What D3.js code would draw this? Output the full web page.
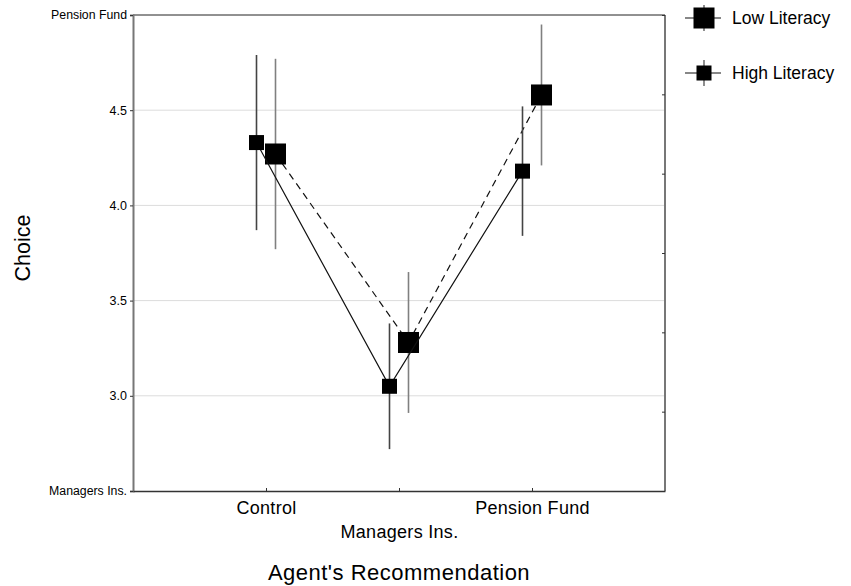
<!DOCTYPE html>
<html>
<head>
<meta charset="utf-8">
<script src="https://cdn.jsdelivr.net/npm/d3@7"></script>
<style>
  body { margin: 0; background: #fff; }
  text { font-family: "Liberation Sans", Arial, sans-serif; fill: #000; }
</style>
</head>
<body>
<svg id="chart" width="851" height="586"></svg>
<script>
// data
var categories = ["Control", "Managers Ins.", "Pension Fund"];
var lowMean  = [4.27, 3.28, 4.58];
var lowErr   = [0.50, 0.37, 0.37];
var highMean = [4.33, 3.05, 4.18];
var highErr  = [0.46, 0.33, 0.34];
var yTicks      = [2.5, 3.0, 3.5, 4.0, 4.5, 5.0];
var yTickLabels = ["Managers Ins.", "3.0", "3.5", "4.0", "4.5", "Pension Fund"];
var seriesNames = ["Low Literacy", "High Literacy"];

var svg = d3.select("#chart"),
    margin = {top: 15, right: 186, bottom: 95, left: 133};
var width  = 851 - margin.left - margin.right;
var height = 586 - margin.top - margin.bottom;
var canvas = svg.append("g").attr("transform", "translate(" + margin.left + "," + margin.top + ")");

var x = d3.scalePoint().domain(categories).range([0, width]).padding(1);
var y = d3.scaleLinear().domain([2.5, 5]).range([height, 0]);

// grid lines
canvas.append("g").selectAll("line")
    .data(yTicks.slice(1, -1))
  .enter().append("line")
    .attr("x1", 0).attr("x2", width)
    .attr("y1", function(d) { return y(d); })
    .attr("y2", function(d) { return y(d); })
    .style("stroke", "#dcdcdc").style("stroke-width", 1);

// frame: top and right
canvas.append("line").attr("x1", 0).attr("x2", width).attr("y1", 0).attr("y2", 0)
    .style("stroke", "#222").style("stroke-width", 1);
canvas.append("line").attr("x1", width).attr("x2", width).attr("y1", 0).attr("y2", height)
    .style("stroke", "#777").style("stroke-width", 2);

// right axis: unlabeled ticks
var yRight = d3.axisLeft(y).tickValues(d3.range(7).map(function(i) { return 2.5 + i * 2.5 / 6; }))
    .tickSize(3).tickFormat("");
var ra = canvas.append("g").attr("transform", "translate(" + width + ",0)").call(yRight);
ra.select(".domain").remove();
ra.selectAll("line").style("stroke", "#333");

// left axis
var yAxis = d3.axisLeft(y).tickValues(yTicks).tickSize(3).tickPadding(3)
    .tickFormat(function(d, i) { return yTickLabels[i]; });
var la = canvas.append("g").call(yAxis);
la.select(".domain").style("stroke", "#777").style("stroke-width", 2);
la.selectAll("line").style("stroke", "#333");
la.selectAll("text").style("font-size", function(d, i) { return (i === 0 || i === yTicks.length - 1) ? "12.3px" : "12.5px"; })
    .style("font-family", "Liberation Sans, Arial, sans-serif");

// bottom axis
var xAxis = d3.axisBottom(x).tickSizeInner(-3).tickSizeOuter(0).tickPadding(12);
var ba = canvas.append("g").attr("transform", "translate(0," + height + ")").call(xAxis);
ba.select(".domain").style("stroke", "#333").style("stroke-width", 1.5);
ba.selectAll("line").style("stroke", "#333");
ba.selectAll("text")
    .style("font-size", "18px")
    .style("letter-spacing", "0.3px")
    .style("font-family", "Liberation Sans, Arial, sans-serif")
    .attr("dy", function(d, i) { return i === 1 ? "1.95em" : "0.6em"; });

// axis titles
svg.append("text")
    .attr("x", margin.left + width / 2).attr("y", 580)
    .attr("text-anchor", "middle")
    .style("font-size", "22px")
    .style("letter-spacing", "0.5px")
    .text("Agent's Recommendation");

svg.append("text")
    .attr("transform", "translate(30,248) rotate(-90)")
    .attr("text-anchor", "middle")
    .style("font-size", "21.5px")
    .text("Choice");

// series
var series = [
  {name: seriesNames[0], mean: lowMean,  err: lowErr,  off: 9.5,  size: 21, dash: "7,5", barColor: "#808080"},
  {name: seriesNames[1], mean: highMean, err: highErr, off: -9.5, size: 15, dash: null,  barColor: "#444"}
];

var line = d3.line()
    .x(function(d) { return d.x; })
    .y(function(d) { return d.y; });

series.forEach(function(s) {
  var pts = categories.map(function(c, i) {
    return {x: x(c) + s.off, y: y(s.mean[i]), lo: y(s.mean[i] - s.err[i]), hi: y(s.mean[i] + s.err[i])};
  });

  canvas.append("path")
      .datum(pts)
      .attr("d", line)
      .style("fill", "none")
      .style("stroke", "#111")
      .style("stroke-width", 1.2)
      .style("stroke-dasharray", s.dash);

  canvas.selectAll(null)
      .data(pts)
    .enter().append("line")
      .attr("x1", function(d) { return d.x; })
      .attr("x2", function(d) { return d.x; })
      .attr("y1", function(d) { return d.hi; })
      .attr("y2", function(d) { return d.lo; })
      .style("stroke", s.barColor)
      .style("stroke-width", 1.6);

  canvas.selectAll(null)
      .data(pts)
    .enter().append("rect")
      .attr("x", function(d) { return d.x - s.size / 2; })
      .attr("y", function(d) { return d.y - s.size / 2; })
      .attr("width", s.size)
      .attr("height", s.size)
      .style("fill", "#000");
});

// legend
var legend = svg.append("g").attr("transform", "translate(704,0)");
var legendY = [18, 73];
series.forEach(function(s, i) {
  var g = legend.append("g").attr("transform", "translate(0," + legendY[i] + ")");
  g.append("line").attr("x1", -19).attr("x2", 17).attr("y1", 0).attr("y2", 0)
      .style("stroke", "#111").style("stroke-width", 1.2);
  g.append("line").attr("x1", 0).attr("x2", 0).attr("y1", -13).attr("y2", 13)
      .style("stroke", "#444").style("stroke-width", 1.2);
  g.append("rect").attr("x", -s.size / 2).attr("y", -s.size / 2)
      .attr("width", s.size).attr("height", s.size).style("fill", "#000");
  g.append("text").attr("x", 28).attr("dy", "0.35em")
      .style("font-size", "17.5px")
      .text(s.name);
});
</script>
</body>
</html>
